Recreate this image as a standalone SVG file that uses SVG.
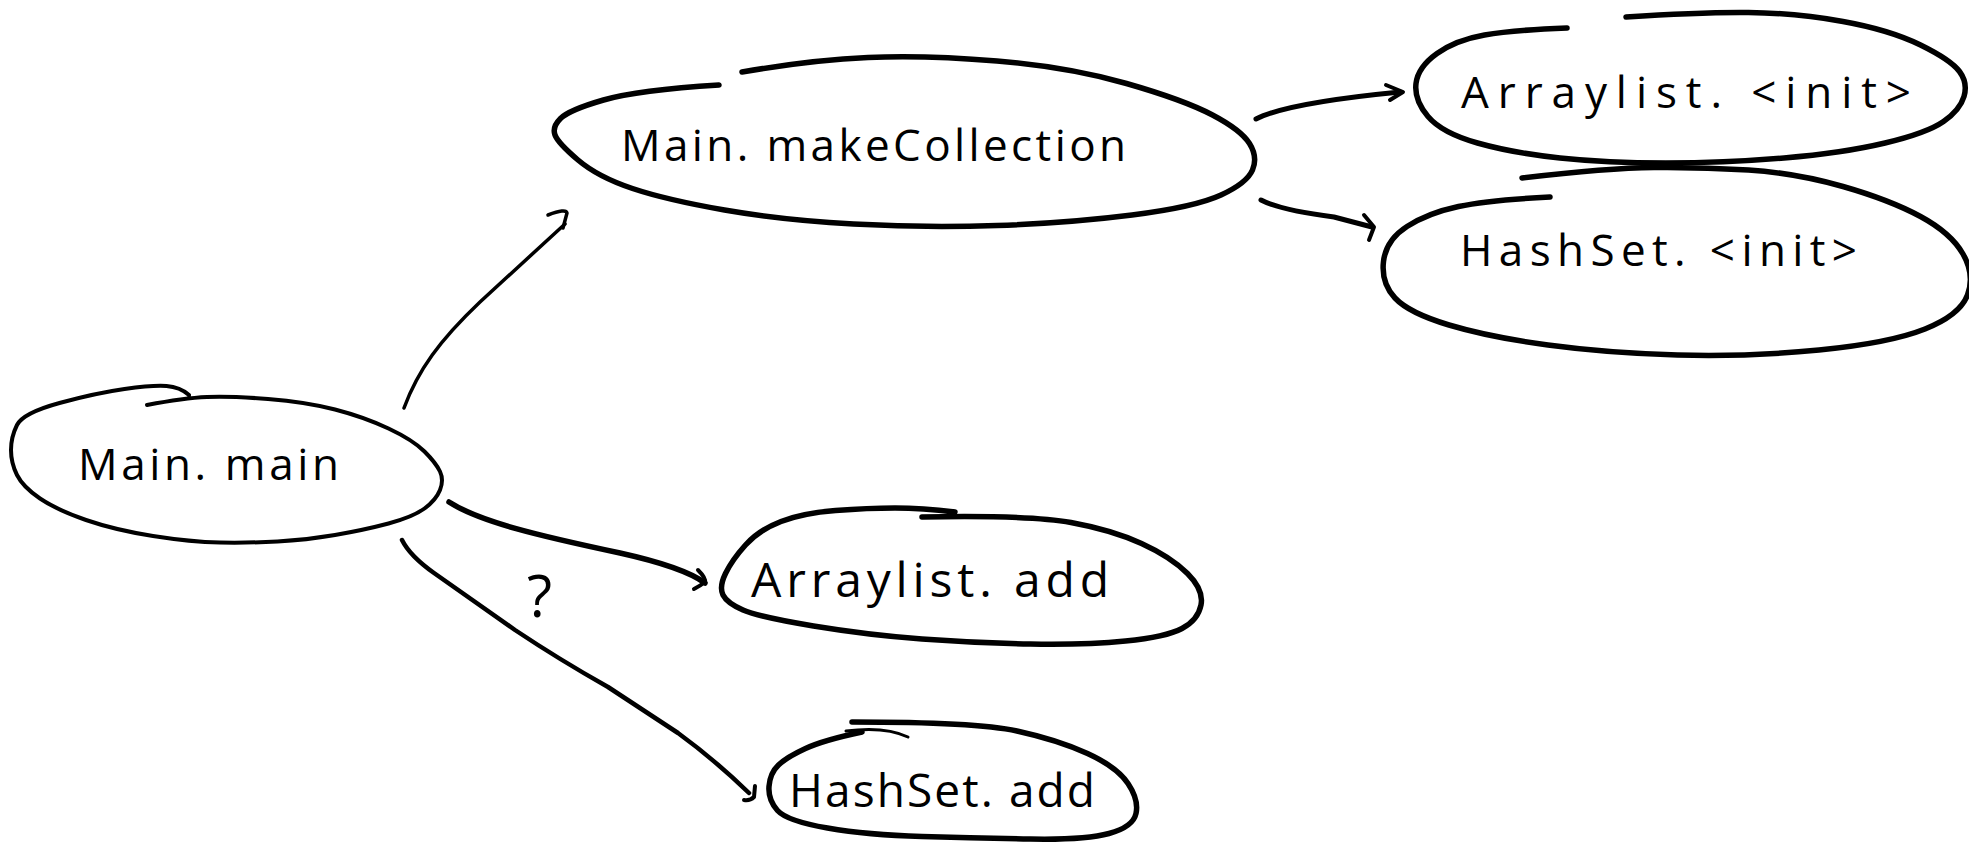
<svg xmlns="http://www.w3.org/2000/svg" width="1969" height="847" viewBox="0 0 1969 847">
  <style>
    .outline { fill: none; stroke: #000; stroke-width: 5.5; stroke-linecap: round; stroke-linejoin: round; }
    .edge { fill: none; stroke: #000; stroke-width: 5; stroke-linecap: round; stroke-linejoin: round; }
    .label { font-family: "Open Sans", "Liberation Sans", sans-serif; font-weight: 400; font-size: 44px; fill: #000; }
  </style>
  <rect width="1969" height="847" fill="#fff"/>

  <!-- call edges -->
  <g id="edges">
    <path class="edge" style="stroke-width:3.5" d="M 404,408 C 418,370 440,340 480,302 L 565,224"/>
    <path class="edge" style="stroke-width:3.5" d="M 548,215 Q 566,208 567,213 L 563,228"/>

    <path class="edge" style="stroke-width:5.5" d="M 449,502 C 480,522 540,536 620,553 C 665,563 690,572 705,583"/>
    <path class="edge" style="stroke-width:4" d="M 698,570 Q 706,578 705,582 Q 700,586 694,589"/>

    <path class="edge" style="stroke-width:4.5" d="M 402,540 Q 410,556 434,573 L 515,630 Q 560,660 608,687 L 678,733 Q 715,760 749,793"/>
    <path class="edge" style="stroke-width:4" d="M 755,786 L 754,797 Q 750,801 744,800"/>

    <path class="edge" d="M 1256,119 Q 1287,103 1400,92"/>
    <path class="edge" style="stroke-width:4" d="M 1386,85 L 1403,92 L 1390,100"/>

    <path class="edge" d="M 1261,200 Q 1280,210 1334,217 L 1372,227"/>
    <path class="edge" style="stroke-width:4" d="M 1364,215 L 1374,227 L 1369,240"/>

    <text class="label" x="527" y="617" style="font-size:58px">?</text>
  </g>

  <g id="main-main">
    <path class="outline" style="stroke-width:4" d="M 147,405 Q 184,398 207,397 Q 230,396 268,399 Q 306,402 335,409.5 Q 364,417 388.5,428.5 Q 413,440 424.5,451.5 Q 436,463 440,471.5 Q 444,480 440,490 Q 436,500 424.5,508.5 Q 413,517 388.5,523.5 Q 364,530 335,535 Q 306,540 277.5,541.5 Q 249,543 220,542.5 Q 191,542 153,536 Q 115,530 86,520 Q 57,510 40,498.5 Q 23,487 17,475 Q 11,463 11,450 Q 11,437 17,425 Q 23,413 59.5,403 Q 96,393 124.5,389 Q 153,385 166.5,386 Q 180,387 189,395"/>
    <text class="label" x="78" y="480" textLength="261" lengthAdjust="spacing">Main. main</text>
  </g>

  <g id="main-makecollection">
    <path class="outline" d="M 719,85 Q 638,90 603.5,100 Q 569,110 560.5,118.5 Q 552,127 555,135 Q 558,143 578,160 Q 598,177 632.5,188.5 Q 667,200 724.5,210 Q 782,220 853.5,224 Q 925,228 997,225.5 Q 1069,223 1132,215 Q 1195,207 1221,195 Q 1247,183 1252.5,170 Q 1258,157 1249.5,143.5 Q 1241,130 1212.5,115 Q 1184,100 1126.5,83.5 Q 1069,67 997,61 Q 925,55 868,57.5 Q 811,60 742,72"/>
    <text class="label" x="621" y="161" textLength="505" lengthAdjust="spacing">Main. makeCollection</text>
  </g>

  <g id="arraylist-init">
    <path class="outline" d="M 1626,17 Q 1701,12 1748.5,12.5 Q 1796,13 1843,21.5 Q 1890,30 1920.5,45 Q 1951,60 1959.5,71.5 Q 1968,83 1964,96.5 Q 1960,110 1943.5,121.5 Q 1927,133 1885,143 Q 1843,153 1784,158 Q 1725,163 1666,163 Q 1607,163 1560,158 Q 1513,153 1477.5,143 Q 1442,133 1428,116.5 Q 1414,100 1416,83.5 Q 1418,67 1437,53.5 Q 1456,40 1484.5,35 Q 1513,30 1567,28"/>
    <text class="label" x="1461" y="108" textLength="450" lengthAdjust="spacing">Arraylist. &lt;init&gt;</text>
  </g>

  <g id="hashset-init">
    <path class="outline" d="M 1522,178 Q 1607,168 1654,167.5 Q 1701,167 1748.5,170 Q 1796,173 1843,186.5 Q 1890,200 1920.5,216.5 Q 1951,233 1963,254 Q 1975,275 1967.5,295 Q 1960,315 1925,329 Q 1890,343 1819,350 Q 1748,357 1677.5,355 Q 1607,353 1548,345 Q 1489,337 1449,325 Q 1409,313 1395,298 Q 1381,283 1383.5,261.5 Q 1386,240 1407,226.5 Q 1428,213 1458.5,206.5 Q 1489,200 1550,197"/>
    <text class="label" x="1460" y="266" textLength="397" lengthAdjust="spacing">HashSet. &lt;init&gt;</text>
  </g>

  <g id="arraylist-add">
    <path class="outline" d="M 922,517 Q 1030,515 1071,522.5 Q 1112,530 1141.5,543.5 Q 1171,557 1187.5,573.5 Q 1204,590 1201,605 Q 1198,620 1182,628.5 Q 1166,637 1125.5,641 Q 1085,645 1030.5,644 Q 976,643 922,639 Q 868,635 813.5,626 Q 759,617 743,610 Q 727,603 723,595 Q 719,587 725.5,573.5 Q 732,560 745.5,545 Q 759,530 781,521.5 Q 803,513 835.5,510.5 Q 868,508 895,508 Q 922,508 955,512"/>
    <text class="label" x="751" y="597" textLength="358" lengthAdjust="spacing" style="font-size:48px">Arraylist. add</text>
  </g>

  <g id="hashset-add">
    <path class="outline" d="M 852,722 Q 976,722 1017,731 Q 1058,740 1087.5,753.5 Q 1117,767 1128,783.5 Q 1139,800 1136,813.5 Q 1133,827 1109,833.5 Q 1085,840 1030.5,839 Q 976,838 922,836.5 Q 868,835 827.5,828 Q 787,821 777.5,810.5 Q 768,800 769,786.5 Q 770,773 778.5,765 Q 787,757 805.5,748.5 Q 824,740 862,732"/>
    <path class="outline" style="stroke-width:3" d="M 846,731 Q 885,726 908,737"/>
    <text class="label" x="789" y="807" textLength="306" lengthAdjust="spacing" style="font-size:46px">HashSet. add</text>
  </g>
</svg>
